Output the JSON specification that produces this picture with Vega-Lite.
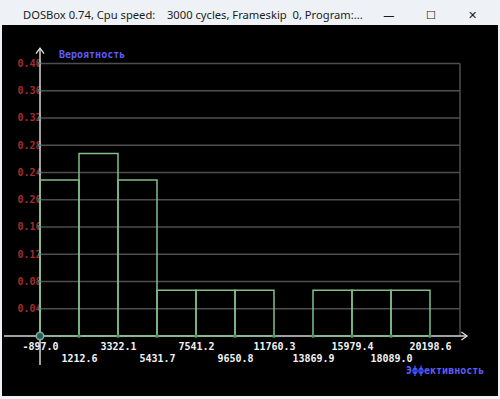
{
  "$schema": "https://vega.github.io/schema/vega-lite/v6.json",
  "width": 496,
  "height": 371,
  "autosize": "none",
  "padding": {"left": 2, "right": 2, "top": 25, "bottom": 3},
  "background": "#eef2f7",
  "config": {
    "view": {"stroke": null, "fill": "#000000"},
    "axis": {"labelFont": "DejaVu Sans Mono", "labelFontWeight": "bold", "labelFontSize": 10}
  },
  "title": {
    "text": "DOSBox 0.74, Cpu speed:\u00a0\u00a0\u00a0 3000 cycles, Frameskip\u00a0 0, Program:...\u00a0\u00a0\u00a0\u00a0\u00a0\u00a0\u00a0—\u00a0\u00a0\u00a0\u00a0\u00a0\u00a0\u00a0\u00a0\u00a0\u00a0\u00a0☐\u00a0\u00a0\u00a0\u00a0\u00a0\u00a0\u00a0\u00a0\u00a0\u00a0\u00a0✕",
    "anchor": "start",
    "frame": "group",
    "orient": "top",
    "offset": 4,
    "dx": 21,
    "font": "Noto Sans",
    "fontSize": 11.2,
    "fontWeight": "normal",
    "color": "#1b1b1b"
  },
  "resolve": {"axis": {"x": "independent", "y": "independent"}},
  "datasets": {
    "bins": [
      {"start": -897.0, "end": 1212.6, "p": 0.229},
      {"start": 1212.6, "end": 3322.1, "p": 0.268},
      {"start": 3322.1, "end": 5431.7, "p": 0.229},
      {"start": 5431.7, "end": 7541.2, "p": 0.067},
      {"start": 7541.2, "end": 9650.8, "p": 0.067},
      {"start": 9650.8, "end": 11760.3, "p": 0.067},
      {"start": 11760.3, "end": 13869.9, "p": 0},
      {"start": 13869.9, "end": 15979.4, "p": 0.067},
      {"start": 15979.4, "end": 18089.0, "p": 0.067},
      {"start": 18089.0, "end": 20198.6, "p": 0.067}
    ],
    "grid": [
      {"v": 0.04}, {"v": 0.08}, {"v": 0.12}, {"v": 0.16}, {"v": 0.20},
      {"v": 0.24}, {"v": 0.28}, {"v": 0.32}, {"v": 0.36}, {"v": 0.40}
    ]
  },
  "layer": [
    {
      "data": {"name": "grid"},
      "mark": {"type": "rule", "color": "#4e4e4e", "strokeWidth": 1.5},
      "encoding": {
        "y": {"field": "v", "type": "quantitative", "scale": {"domain": [-0.08807, 0.4565], "nice": false, "zero": false}, "axis": null},
        "x": {"datum": -897, "type": "quantitative", "scale": {"domain": [-2952.5, 23876.7], "nice": false, "zero": false}, "axis": null},
        "x2": {"datum": 21821}
      }
    },
    {
      "data": {"values": [{}]},
      "mark": {"type": "rule", "color": "#4e4e4e", "strokeWidth": 1.5},
      "encoding": {
        "x": {"datum": 21821, "type": "quantitative", "scale": {"domain": [-2952.5, 23876.7], "nice": false, "zero": false}, "axis": null},
        "y": {"datum": 0, "type": "quantitative", "scale": {"domain": [-0.08807, 0.4565], "nice": false, "zero": false}, "axis": null},
        "y2": {"datum": 0.4}
      }
    },
    {
      "data": {"values": [{}]},
      "mark": {"type": "rule", "color": "#d6d6d6", "strokeWidth": 1.5},
      "encoding": {
        "x": {"datum": -897, "type": "quantitative", "scale": {"domain": [-2952.5, 23876.7], "nice": false, "zero": false}, "axis": null},
        "y": {"datum": -0.0426, "type": "quantitative", "scale": {"domain": [-0.08807, 0.4565], "nice": false, "zero": false}, "axis": null},
        "y2": {"datum": 0.4227}
      }
    },
    {
      "data": {"values": [{}]},
      "mark": {"type": "rule", "color": "#d6d6d6", "strokeWidth": 1.5},
      "encoding": {
        "x": {"datum": -2844, "type": "quantitative", "scale": {"domain": [-2952.5, 23876.7], "nice": false, "zero": false}, "axis": null},
        "x2": {"datum": 22200},
        "y": {"datum": 0, "type": "quantitative", "scale": {"domain": [-0.08807, 0.4565], "nice": false, "zero": false}, "axis": null}
      }
    },
    {
      "data": {"name": "bins"},
      "transform": [{"filter": "datum.p > 0"}],
      "mark": {"type": "rect", "fill": "#000000", "fillOpacity": 0, "stroke": "#82bd8a", "strokeWidth": 1.5},
      "encoding": {
        "x": {
          "field": "start", "type": "quantitative",
          "scale": {"domain": [-2952.5, 23876.7], "nice": false, "zero": false},
          "axis": {
            "orient": "bottom", "title": null, "offset": -60, "domain": false, "ticks": false, "tickSize": 0, "grid": false,
            "values": [-897.0, 1212.6, 3322.1, 5431.7, 7541.2, 9650.8, 11760.3, 13869.9, 15979.4, 18089.0, 20198.6],
            "format": ".1f",
            "labelExpr": "replace(datum.label, '\u2212', '-')",
            "labelColor": "#f2f2f2", "labelAlign": "center", "labelBaseline": "middle",
            "labelOverlap": false, "labelFlush": false, "labelBound": false,
            "labelPadding": {"condition": {"test": "indexof([1212.6, 5431.7, 9650.8, 13869.9, 18089.0], datum.value) >= 0", "value": 22}, "value": 10}
          }
        },
        "x2": {"field": "end"},
        "y": {
          "field": "p", "type": "quantitative",
          "scale": {"domain": [-0.08807, 0.4565], "nice": false, "zero": false},
          "axis": {
            "orient": "left", "title": null, "offset": -38, "domain": false, "ticks": false, "tickSize": 0, "grid": false,
            "values": [0.04, 0.08, 0.12, 0.16, 0.20, 0.24, 0.28, 0.32, 0.36, 0.40],
            "format": ".2f", "labelColor": "#a42c2c", "labelPadding": -1, "labelBaseline": "middle",
            "labelOverlap": false, "labelFlush": false, "labelBound": false
          }
        },
        "y2": {"datum": 0}
      }
    },
    {
      "data": {"name": "bins"},
      "mark": {"type": "point", "filled": true, "size": 14, "color": "#4f9d66", "opacity": 1},
      "encoding": {
        "x": {"field": "end", "type": "quantitative", "scale": {"domain": [-2952.5, 23876.7], "nice": false, "zero": false}, "axis": null},
        "y": {"datum": 0, "type": "quantitative", "scale": {"domain": [-0.08807, 0.4565], "nice": false, "zero": false}, "axis": null}
      }
    },
    {
      "data": {"values": [{}]},
      "mark": {"type": "point", "filled": false, "size": 55, "fill": "#2d5a50", "fillOpacity": 1, "stroke": "#7fb3a6", "strokeWidth": 1.5, "opacity": 1},
      "encoding": {
        "x": {"datum": -897, "type": "quantitative", "scale": {"domain": [-2952.5, 23876.7], "nice": false, "zero": false}, "axis": null},
        "y": {"datum": 0, "type": "quantitative", "scale": {"domain": [-0.08807, 0.4565], "nice": false, "zero": false}, "axis": null}
      }
    },
    {
      "data": {"name": "grid"},
      "mark": {"type": "point", "shape": "triangle-right", "filled": true, "size": 14, "color": "#3a9e9e", "opacity": 1},
      "encoding": {
        "x": {"datum": -897, "type": "quantitative", "scale": {"domain": [-2952.5, 23876.7], "nice": false, "zero": false}, "axis": null},
        "y": {"field": "v", "type": "quantitative", "scale": {"domain": [-0.08807, 0.4565], "nice": false, "zero": false}, "axis": null}
      }
    },
    {
      "data": {"values": [{}]},
      "mark": {"type": "point", "shape": "M-1,1.4L0,0L1,1.4", "filled": false, "size": 64, "stroke": "#e0e0e0", "strokeWidth": 1.3, "opacity": 1},
      "encoding": {
        "x": {"datum": -897, "type": "quantitative", "scale": {"domain": [-2952.5, 23876.7], "nice": false, "zero": false}, "axis": null},
        "y": {"datum": 0.4227, "type": "quantitative", "scale": {"domain": [-0.08807, 0.4565], "nice": false, "zero": false}, "axis": null}
      }
    },
    {
      "data": {"values": [{}]},
      "mark": {"type": "point", "shape": "M-1.4,-1L0,0L-1.4,1", "filled": false, "size": 64, "stroke": "#e0e0e0", "strokeWidth": 1.3, "opacity": 1},
      "encoding": {
        "x": {"datum": 22200, "type": "quantitative", "scale": {"domain": [-2952.5, 23876.7], "nice": false, "zero": false}, "axis": null},
        "y": {"datum": 0, "type": "quantitative", "scale": {"domain": [-0.08807, 0.4565], "nice": false, "zero": false}, "axis": null}
      }
    },
    {
      "data": {"values": [{"label": "Вероятность"}]},
      "mark": {"type": "text", "align": "left", "baseline": "middle", "font": "DejaVu Sans Mono", "fontWeight": "bold", "fontSize": 10, "color": "#5c5cf2"},
      "encoding": {
        "text": {"field": "label"},
        "x": {"datum": 130.7, "type": "quantitative", "scale": {"domain": [-2952.5, 23876.7], "nice": false, "zero": false}, "axis": null},
        "y": {"datum": 0.412, "type": "quantitative", "scale": {"domain": [-0.08807, 0.4565], "nice": false, "zero": false}, "axis": null}
      }
    },
    {
      "data": {"values": [{"label": "Эффективность"}]},
      "mark": {"type": "text", "align": "left", "baseline": "middle", "font": "DejaVu Sans Mono", "fontWeight": "bold", "fontSize": 10, "color": "#5c5cf2"},
      "encoding": {
        "text": {"field": "label"},
        "x": {"datum": 18900, "type": "quantitative", "scale": {"domain": [-2952.5, 23876.7], "nice": false, "zero": false}, "axis": null},
        "y": {"datum": -0.0514, "type": "quantitative", "scale": {"domain": [-0.08807, 0.4565], "nice": false, "zero": false}, "axis": null}
      }
    }
  ]
}
